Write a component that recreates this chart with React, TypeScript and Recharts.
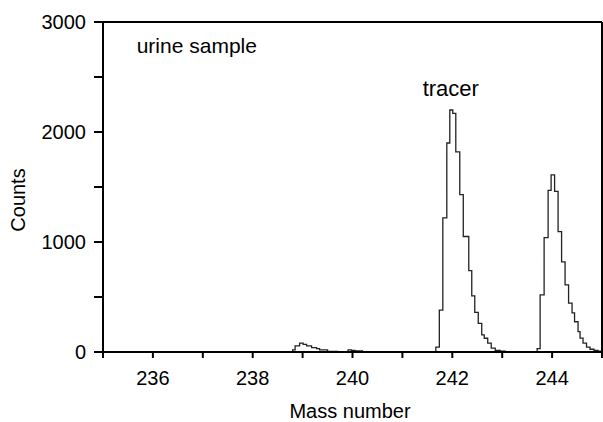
import { Line, LineChart, ReferenceDot, ReferenceLine, XAxis, YAxis } from "recharts";

// mass number at the left edge of each step, with the counts for that step
const massNumber = [
  235, 238.8, 238.85, 238.94, 239.01, 239.08, 239.18, 239.28, 239.34, 239.5, 239.7,
  239.91, 239.98, 240.05, 240.2, 240.35,
  241.67, 241.74, 241.81, 241.89, 241.95, 242.01, 242.07, 242.15, 242.22, 242.33,
  242.39, 242.45, 242.52, 242.59, 242.64, 242.71, 242.78, 242.86, 242.96, 243.06,
  243.7, 243.76, 243.84, 243.92, 243.98, 244.05, 244.12, 244.19, 244.26, 244.33,
  244.4, 244.45, 244.52, 244.56, 244.62, 244.69, 244.76, 244.84, 244.92, 245,
];
const counts = [
  0, 20, 55, 80, 70, 55, 40, 30, 20, 5, 0,
  20, 15, 10, 3, 0,
  45, 380, 1220, 1900, 2200, 2170, 1820, 1430, 1050, 740,
  510, 360, 260, 155, 125, 80, 35, 15, 8, 0,
  30, 520, 1040, 1470, 1610, 1460, 1095, 820, 610, 445,
  355, 275, 185, 127, 80, 45, 25, 15, 8, 8,
];

const xTicks = [235, 236, 237, 238, 239, 240, 241, 242, 243, 244, 245];
const yTicks = [0, 500, 1000, 1500, 2000, 2500, 3000];

const data = massNumber.map((m, i) => ({ mass: m, counts: counts[i] }));

const FONT = "'Liberation Sans', Arial, sans-serif";
const INK = "#000";

export default function App() {
  return (
    <div style={{ position: "absolute", left: 0, top: 0, background: "#fff" }}>
      <LineChart
        width={603}
        height={422}
        data={data}
        margin={{ top: 22, right: 1, left: 0, bottom: 0 }}
        style={{ fontFamily: FONT }}
      >
        <XAxis
          type="number"
          dataKey="mass"
          domain={[235, 245]}
          ticks={xTicks}
          interval={0}
          allowDataOverflow
          height={70}
          tickSize={6}
          tickMargin={13}
          tickFormatter={(v: number) => (v % 2 === 0 ? String(v) : "")}
          tick={{ fill: INK, fontSize: 20 }}
          axisLine={{ stroke: INK, strokeWidth: 2 }}
          tickLine={{ stroke: INK, strokeWidth: 2 }}
          label={{
            content: () => (
              <text x={350} y={418} textAnchor="middle" fill={INK} fontSize={20} fontFamily={FONT}>
                Mass number
              </text>
            ),
          }}
        />
        <YAxis
          type="number"
          domain={[0, 3000]}
          ticks={yTicks}
          interval={0}
          allowDataOverflow
          width={103}
          tickSize={9}
          tickMargin={8}
          tickFormatter={(v: number) => (v % 1000 === 0 ? String(v) : "")}
          tick={{ fill: INK, fontSize: 20 }}
          axisLine={{ stroke: INK, strokeWidth: 2 }}
          tickLine={{ stroke: INK, strokeWidth: 2 }}
          label={{
            content: () => (
              <text
                x={25}
                y={200}
                transform="rotate(-90 25 200)"
                textAnchor="middle"
                fill={INK}
                fontSize={20}
                fontFamily={FONT}
              >
                Counts
              </text>
            ),
          }}
        />
        <ReferenceLine y={3000} stroke={INK} strokeWidth={2} />
        <ReferenceLine x={245} stroke={INK} strokeWidth={2} />
        <ReferenceDot
          x={236.88}
          y={2790}
          r={0}
          fill="none"
          stroke="none"
          label={{ value: "urine sample", position: "center", fill: INK, fontSize: 21, fontFamily: FONT }}
        />
        <ReferenceDot
          x={241.97}
          y={2400}
          r={0}
          fill="none"
          stroke="none"
          label={{ value: "tracer", position: "center", fill: INK, fontSize: 22, fontFamily: FONT }}
        />
        <Line
          type="stepAfter"
          dataKey="counts"
          stroke="#222"
          strokeWidth={1.3}
          dot={false}
          isAnimationActive={false}
        />
      </LineChart>
    </div>
  );
}
